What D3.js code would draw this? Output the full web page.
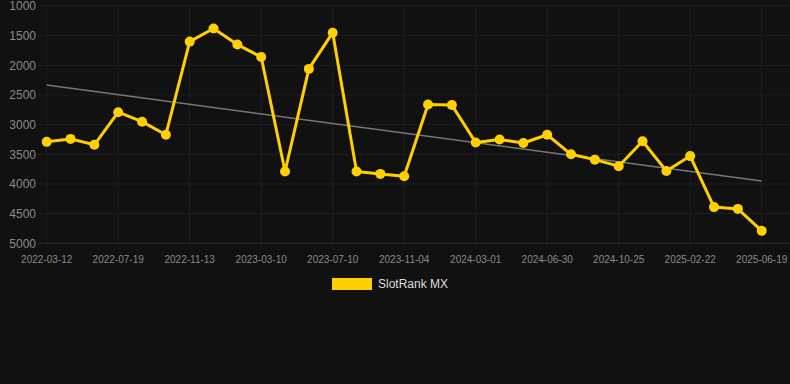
<!DOCTYPE html>
<html><head><meta charset="utf-8">
<script src="https://cdn.jsdelivr.net/npm/d3@7/dist/d3.min.js"></script>
<style>html,body{margin:0;padding:0;background:#111111;}svg{display:block;}</style>
</head><body>
<svg id="c" width="790" height="384"></svg>
<script>
const dates = ["2022-03-12","2022-04-25","2022-06-06","2022-07-19","2022-08-30","2022-10-01","2022-11-13","2022-12-25","2023-02-01","2023-03-10","2023-04-20","2023-06-01","2023-07-10","2023-08-20","2023-09-25","2023-11-04","2023-12-15","2024-01-20","2024-03-01","2024-04-10","2024-05-20","2024-06-30","2024-08-10","2024-09-15","2024-10-25","2024-12-05","2025-01-12","2025-02-22","2025-04-01","2025-05-10","2025-06-19"];
const ranks = [3290,3240,3340,2790,2950,3170,1600,1380,1650,1860,3790,2060,1450,3790,3830,3870,2660,2670,3300,3250,3310,3170,3500,3590,3700,3280,3780,3530,4390,4420,4790];
const yTicks = [1000,1500,2000,2500,3000,3500,4000,4500,5000];
const seriesName = "SlotRank MX";

const svg = d3.select("#c");
const x = d3.scalePoint().domain(dates).range([46.7, 761.7]);
const y = d3.scaleLinear().domain([1000,5000]).range([6, 243.3]);
const xTickLabels = dates.filter((d,i)=>i%3===0);

// horizontal grid
svg.append("g").selectAll("line").data(yTicks).join("line")
  .attr("x1",38).attr("x2",790)
  .attr("y1",d=>y(d)).attr("y2",d=>y(d))
  .attr("stroke",d=>d===5000?"#2e2e2e":"#1f1f1f").attr("stroke-width",1);
// vertical grid
svg.append("g").selectAll("line").data(xTickLabels).join("line")
  .attr("x1",d=>x(d)).attr("x2",d=>x(d))
  .attr("y1",y(1000)).attr("y2",y(5000)+5)
  .attr("stroke","#1f1f1f").attr("stroke-width",1);

// y axis labels
svg.append("g").selectAll("text").data(yTicks).join("text")
  .attr("x",36).attr("y",d=>y(d)).attr("dy","0.35em")
  .attr("text-anchor","end").attr("fill","#8a8a8a")
  .attr("font-family","Liberation Sans, Arial, sans-serif").attr("font-size",12)
  .text(d=>d);
// x axis labels
svg.append("g").selectAll("text").data(xTickLabels).join("text")
  .attr("x",d=>x(d)).attr("y",263)
  .attr("text-anchor","middle").attr("fill","#8a8a8a")
  .attr("font-family","Liberation Sans, Arial, sans-serif").attr("font-size",10)
  .text(d=>d);

// trend line (least squares on index)
const n = ranks.length;
const xs = d3.range(n);
const mx = d3.mean(xs), my = d3.mean(ranks);
const slope = d3.sum(xs.map((v,i)=>(v-mx)*(ranks[i]-my)))/d3.sum(xs.map(v=>(v-mx)*(v-mx)));
const icpt = my - slope*mx;
svg.append("line")
  .attr("x1",x(dates[0])).attr("y1",y(icpt))
  .attr("x2",x(dates[n-1])).attr("y2",y(icpt+slope*(n-1)))
  .attr("stroke","#777").attr("stroke-width",1.5);

// series line
const line = d3.line().x((d,i)=>x(dates[i])).y(d=>y(d));
svg.append("path").datum(ranks).attr("d",line)
  .attr("fill","none").attr("stroke","#FFD000").attr("stroke-width",3)
  .attr("stroke-linejoin","round");
svg.append("g").selectAll("circle").data(ranks).join("circle")
  .attr("cx",(d,i)=>x(dates[i])).attr("cy",d=>y(d)).attr("r",5)
  .attr("fill","#FFD000");

// legend
svg.append("rect").attr("x",332).attr("y",278).attr("width",40).attr("height",12).attr("fill","#FFD000");
svg.append("text").attr("x",378).attr("y",284).attr("dy","0.35em")
  .attr("fill","#dddddd").attr("font-family","Liberation Sans, Arial, sans-serif").attr("font-size",12)
  .text(seriesName);
</script>
</body></html>
